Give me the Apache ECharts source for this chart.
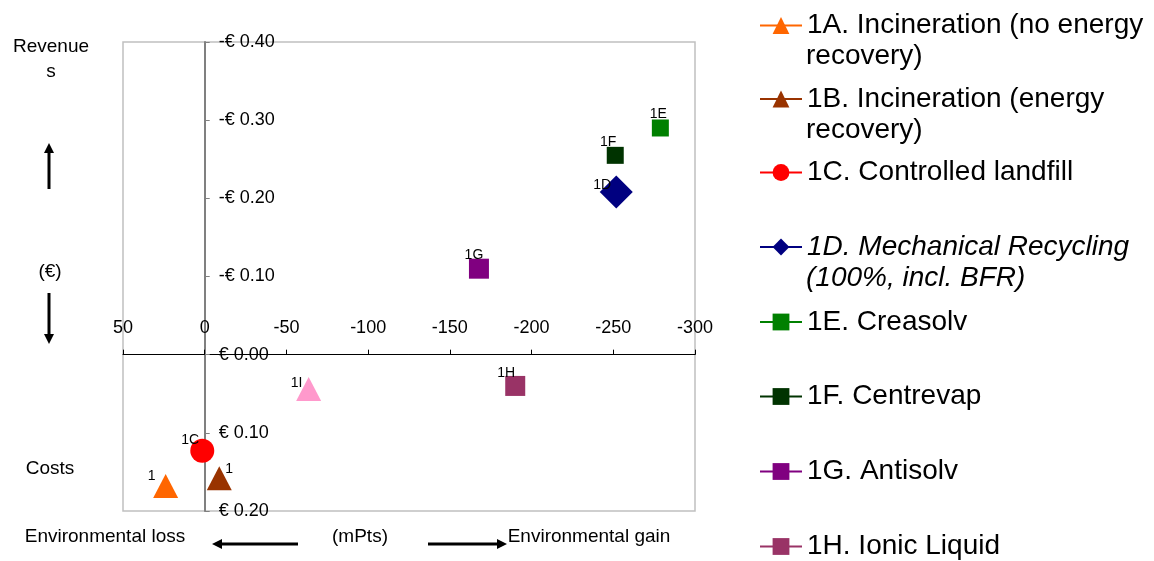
<!DOCTYPE html>
<html><head><meta charset="utf-8">
<script src="https://cdn.jsdelivr.net/npm/echarts@6/dist/echarts.min.js"></script>
<style>html,body{margin:0;padding:0;background:#fff}#c{width:1154px;height:561px}</style>
</head><body><div id="c"></div>
<script>
// ---- data ----
const seriesNames = [
  '1A. Incineration (no energy recovery)',
  '1B. Incineration (energy recovery)',
  '1C. Controlled landfill',
  '1D. Mechanical Recycling (100%, incl. BFR)',
  '1E. Creasolv',
  '1F. Centrevap',
  '1G. Antisolv',
  '1H. Ionic Liquid',
  '1I'
];
const legendLine1 = [
  '1A. Incineration (no energy',
  '1B. Incineration (energy',
  '1C. Controlled landfill',
  '1D. Mechanical Recycling',
  '1E. Creasolv',
  '1F. Centrevap',
  '1G. Antisolv',
  '1H. Ionic Liquid'
];
const legendLine2 = ['recovery)', 'recovery)', '', '(100%, incl. BFR)', '', '', '', ''];
const pointLabels = ['1', '1', '1C', '1D', '1E', '1F', '1G', '1H', '1I'];
const envScores = [23.9, -8.9, 1.5, -251.8, -278.8, -251.2, -167.8, -190, -63.6];   // mPts
const costValues = [0.168, 0.158, 0.123, -0.208, -0.290, -0.255, -0.110, 0.040, 0.044]; // €
const xMin = -300, xMax = 50, xStep = 50;
const yMin = -0.4, yMax = 0.2, yStep = 0.1;

// ---- styles / layout ----
const FONT = 'Liberation Sans, Arial, sans-serif';
const colors = ['#ff6600', '#993300', '#ff0000', '#000080', '#008000', '#003300', '#800080', '#993366', '#ff99cc'];
const symbols = ['triangle', 'triangle', 'circle', 'diamond', 'rect', 'rect', 'rect', 'rect', 'triangle'];
const symbolSizes = [[25, 24], [25, 24], 24, 33, 17, 17, 20, 20, [25, 24]];
const labelOffsets = [[-14, -10], [10, -9], [-12, -11], [-14, -7], [-2, -14], [-7, -13], [-5, -14], [-9, -13], [-12, -6]];
const legendCenters = [25.5, 99, 172.5, 247, 322, 396.5, 471.5, 546.5];
const LH = 31;
const G = { left: 123, right: 459, top: 42, bottom: 50 };
const gridW = 1154 - G.left - G.right, gridH = 561 - G.top - G.bottom;
// axes cross at zero: shift them inward from the grid edges
const yAxisOffset = -gridW * (xMax - 0) / (xMax - xMin);   // x inverse: max at left
const xAxisOffset = -gridH * (yMax - 0) / (yMax - yMin);   // y inverse: max at bottom

const chart = echarts.init(document.getElementById('c'));

const legends = legendLine1.map((t, i) => ({
  show: true,
  selectedMode: false,
  orient: 'vertical',
  left: 759,
  top: legendCenters[i] - LH / 2,
  padding: 0,
  itemWidth: 42,
  itemHeight: 21,
  data: [i === 3 ? { name: seriesNames[i], textStyle: { fontStyle: 'italic' } } : seriesNames[i]],
  formatter: () => t,
  textStyle: { fontFamily: FONT, fontSize: 28, color: '#000', lineHeight: LH }
}));

const fmtY = v => {
  const r = Math.round(v * 100) / 100;
  return (r < 0 ? '-€ ' : '€ ') + Math.abs(r).toFixed(2);
};

function arrowV(x, yTail, yTip) {
  const dir = yTip < yTail ? -1 : 1;
  return [
    { type: 'line', shape: { x1: x, y1: yTail, x2: x, y2: yTip - dir * 8 }, style: { stroke: '#000', lineWidth: 3 } },
    { type: 'polygon', shape: { points: [[x, yTip], [x - 5, yTip - dir * 10], [x + 5, yTip - dir * 10]] }, style: { fill: '#000' } }
  ];
}
function arrowH(y, xTail, xTip) {
  const dir = xTip < xTail ? -1 : 1;
  return [
    { type: 'line', shape: { x1: xTail, y1: y, x2: xTip - dir * 8, y2: y }, style: { stroke: '#000', lineWidth: 3 } },
    { type: 'polygon', shape: { points: [[xTip, y], [xTip - dir * 10, y - 5], [xTip - dir * 10, y + 5]] }, style: { fill: '#000' } }
  ];
}
const txt = (x, y, s, size, align, italic) => ({
  type: 'text', x: x, y: y,
  style: {
    text: s, font: (italic ? 'italic ' : '') + (size || 18) + 'px ' + FONT, fill: '#000',
    align: align || 'center', verticalAlign: 'middle'
  }
});

const legendSecondLines = [];
legendLine2.forEach((t, i) => {
  if (t) legendSecondLines.push(txt(806, legendCenters[i] + LH, t, 28, 'left', i === 3));
});

const option = {
  backgroundColor: '#fff',
  animation: false,
  grid: { left: G.left, right: G.right, top: G.top, bottom: G.bottom, show: true, borderColor: '#c0c0c0', borderWidth: 1.5, backgroundColor: 'transparent' },
  legend: legends,
  xAxis: {
    type: 'value', min: xMin, max: xMax, interval: xStep, inverse: true,
    offset: xAxisOffset,
    axisLine: { onZero: false, lineStyle: { color: '#000', width: 1 } },
    axisTick: { show: true, inside: true, length: 5, lineStyle: { color: '#000' } },
    axisLabel: { inside: true, margin: 18, fontFamily: FONT, fontSize: 18, color: '#000', showMinLabel: true, showMaxLabel: true },
    splitLine: { show: false }
  },
  yAxis: {
    type: 'value', min: yMin, max: yMax, interval: yStep, inverse: true,
    offset: yAxisOffset,
    axisLine: { onZero: false, lineStyle: { color: '#808080', width: 2 } },
    axisTick: { show: true, inside: true, length: 5, lineStyle: { color: '#808080' } },
    axisLabel: { inside: true, margin: 14, fontFamily: FONT, fontSize: 18, color: '#000', formatter: fmtY, showMinLabel: true, showMaxLabel: true },
    splitLine: { show: false }
  },
  series: seriesNames.map((n, i) => ({
    type: 'line',
    name: n,
    data: [[envScores[i], costValues[i]]],
    symbol: symbols[i],
    symbolSize: symbolSizes[i],
    showSymbol: true,
    itemStyle: { color: colors[i] },
    lineStyle: { color: colors[i], width: 1 },
    label: {
      show: true, position: 'inside', offset: labelOffsets[i],
      formatter: pointLabels[i], fontFamily: FONT, fontSize: 14, color: '#000',
      textBorderWidth: 0, textBorderColor: 'transparent'
    },
    emphasis: { disabled: true },
    z: 2 + i
  })),
  graphic: [
    txt(51, 47, 'Revenue', 19),
    txt(51, 72, 's', 19),
    ...arrowV(49, 189, 143),
    txt(50, 272, '(€)', 19),
    ...arrowV(49, 293, 344),
    txt(50, 469, 'Costs', 19),
    txt(105, 537, 'Environmental loss', 19),
    ...arrowH(544, 298, 212),
    txt(360, 537, '(mPts)', 19),
    ...arrowH(544, 428, 507),
    txt(589, 537, 'Environmental gain', 19),
    ...legendSecondLines
  ]
};
chart.setOption(option);
</script>
</body></html>
